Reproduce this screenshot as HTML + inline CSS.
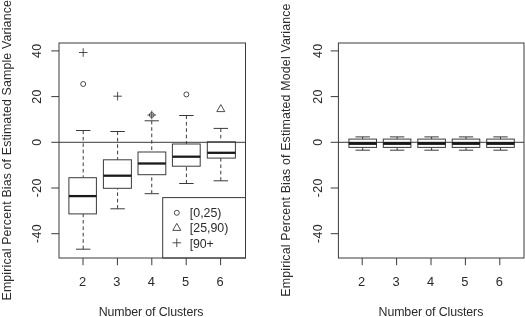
<!DOCTYPE html>
<html><head><meta charset="utf-8"><title>Boxplots</title>
<style>
html,body{margin:0;padding:0;background:#fff;}
body{width:525px;height:317px;overflow:hidden;}
svg{display:block;}
text{font-family:"Liberation Sans",Arial,Helvetica,sans-serif;font-size:12.4px;fill:#2b2b2b;}
.l{stroke:#3a3a3a;stroke-width:1;fill:none;}
.d{stroke:#3a3a3a;stroke-width:1;fill:none;stroke-dasharray:3.6 2.8;}
.m{stroke:#1a1a1a;stroke-width:2.3;fill:none;}
.b{stroke:#3a3a3a;stroke-width:1;fill:#fff;}
.s{stroke:#3a3a3a;stroke-width:0.9;fill:none;}
</style></head><body>
<svg width="525" height="317" viewBox="0 0 525 317">
<rect x="0" y="0" width="525" height="317" fill="#fff"/>

<g>
<line class="d" x1="83.2" y1="130.5" x2="83.2" y2="177.7"/>
<line class="d" x1="83.2" y1="249.2" x2="83.2" y2="213.9"/>
<line class="l" x1="76.0" y1="130.5" x2="90.4" y2="130.5"/>
<line class="l" x1="76.0" y1="249.2" x2="90.4" y2="249.2"/>
<rect class="b" x="68.9" y="177.7" width="27.5" height="36.2"/>
<line class="m" x1="68.9" y1="196.1" x2="96.4" y2="196.1"/>
<line class="d" x1="117.6" y1="131.5" x2="117.6" y2="159.8"/>
<line class="d" x1="117.6" y1="208.8" x2="117.6" y2="188.3"/>
<line class="l" x1="110.4" y1="131.5" x2="124.8" y2="131.5"/>
<line class="l" x1="110.4" y1="208.8" x2="124.8" y2="208.8"/>
<rect class="b" x="103.4" y="159.8" width="28.0" height="28.5"/>
<line class="m" x1="103.4" y1="175.7" x2="131.4" y2="175.7"/>
<line class="d" x1="151.75" y1="120.8" x2="151.75" y2="152"/>
<line class="d" x1="151.75" y1="193.7" x2="151.75" y2="174.7"/>
<line class="l" x1="144.6" y1="120.8" x2="158.9" y2="120.8"/>
<line class="l" x1="144.6" y1="193.7" x2="158.9" y2="193.7"/>
<rect class="b" x="138.0" y="152" width="27.8" height="22.7"/>
<line class="m" x1="138.0" y1="163.5" x2="165.8" y2="163.5"/>
<line class="d" x1="186.4" y1="115.5" x2="186.4" y2="144"/>
<line class="d" x1="186.4" y1="183.5" x2="186.4" y2="166.2"/>
<line class="l" x1="179.2" y1="115.5" x2="193.6" y2="115.5"/>
<line class="l" x1="179.2" y1="183.5" x2="193.6" y2="183.5"/>
<rect class="b" x="172.4" y="144" width="27.8" height="22.2"/>
<line class="m" x1="172.4" y1="156.7" x2="200.2" y2="156.7"/>
<line class="d" x1="220.8" y1="128.4" x2="220.8" y2="141.8"/>
<line class="d" x1="220.8" y1="180.8" x2="220.8" y2="158.1"/>
<line class="l" x1="213.6" y1="128.4" x2="228.0" y2="128.4"/>
<line class="l" x1="213.6" y1="180.8" x2="228.0" y2="180.8"/>
<rect class="b" x="207.3" y="141.8" width="28.1" height="16.3"/>
<line class="m" x1="207.3" y1="152.8" x2="235.4" y2="152.8"/>
<path class="s" d="M78.9 52.5H87.5M83.2 48.2V56.8"/>
<circle class="s" cx="83.2" cy="84" r="2.5"/>
<path class="s" d="M113.3 96.2H121.9M117.6 91.9V100.5"/>
<path class="s" d="M147.4 115.0H156.1M151.75 110.7V119.3"/>
<circle class="s" cx="151.75" cy="115.0" r="2.4"/>
<circle class="s" cx="186.4" cy="94.4" r="2.5"/>
<path class="s" d="M220.8 104.6L224.8 111.6H216.8Z"/>
<line class="l" x1="59" y1="142.3" x2="245.5" y2="142.3"/>
<rect class="b" x="162.7" y="197.6" width="82.8" height="60.4"/>
<circle class="s" cx="176.8" cy="212.8" r="2.5"/>
<path class="s" d="M176.8 223.4L180.8 230.4H172.8Z"/>
<path class="s" d="M172.5 242.8H181.1M176.8 238.5V247.1"/>
<text transform="translate(189.8,217.1) scale(1,1.06)" textLength="31.7" lengthAdjust="spacing">[0,25)</text>
<text transform="translate(189.8,232.4) scale(1,1.06)" textLength="38.6" lengthAdjust="spacing">[25,90)</text>
<text transform="translate(189.8,247.8) scale(1,1.06)" textLength="23.9" lengthAdjust="spacing">[90+</text>
<rect class="l" x="59" y="43" width="186.5" height="215"/>
<line class="l" x1="51.3" y1="50.9" x2="59" y2="50.9"/>
<text transform="translate(41.3,50.9) rotate(-90)" text-anchor="middle" textLength="14.2" lengthAdjust="spacing">40</text>
<line class="l" x1="51.3" y1="96.6" x2="59" y2="96.6"/>
<text transform="translate(41.3,96.6) rotate(-90)" text-anchor="middle" textLength="14.2" lengthAdjust="spacing">20</text>
<line class="l" x1="51.3" y1="142.3" x2="59" y2="142.3"/>
<text transform="translate(41.3,142.3) rotate(-90)" text-anchor="middle" textLength="7.1" lengthAdjust="spacing">0</text>
<line class="l" x1="51.3" y1="188.0" x2="59" y2="188.0"/>
<text transform="translate(41.3,188.0) rotate(-90)" text-anchor="middle" textLength="18.6" lengthAdjust="spacing">-20</text>
<line class="l" x1="51.3" y1="233.7" x2="59" y2="233.7"/>
<text transform="translate(41.3,233.7) rotate(-90)" text-anchor="middle" textLength="18.6" lengthAdjust="spacing">-40</text>
<line class="l" x1="83.0" y1="258" x2="83.0" y2="265.2"/>
<text transform="translate(82.5,285.7) scale(1.04,1.07)" text-anchor="middle">2</text>
<line class="l" x1="117.4" y1="258" x2="117.4" y2="265.2"/>
<text transform="translate(116.9,285.7) scale(1.04,1.07)" text-anchor="middle">3</text>
<line class="l" x1="151.8" y1="258" x2="151.8" y2="265.2"/>
<text transform="translate(151.3,285.7) scale(1.04,1.07)" text-anchor="middle">4</text>
<line class="l" x1="186.2" y1="258" x2="186.2" y2="265.2"/>
<text transform="translate(185.7,285.7) scale(1.04,1.07)" text-anchor="middle">5</text>
<line class="l" x1="220.6" y1="258" x2="220.6" y2="265.2"/>
<text transform="translate(220.1,285.7) scale(1.04,1.07)" text-anchor="middle">6</text>
<text transform="translate(151.05,316.3) scale(1,1.07)" text-anchor="middle" textLength="104.8" lengthAdjust="spacing">Number of Clusters</text>
<text transform="translate(10.9,150.3) rotate(-90)" text-anchor="middle" textLength="300.4" lengthAdjust="spacing">Empirical Percent Bias of Estimated Sample Variance</text>
</g>
<g>
<line class="d" x1="362.7" y1="136.9" x2="362.7" y2="139.1"/>
<line class="d" x1="362.7" y1="150.2" x2="362.7" y2="147.4"/>
<line class="l" x1="355.5" y1="136.9" x2="369.9" y2="136.9"/>
<line class="l" x1="355.5" y1="150.2" x2="369.9" y2="150.2"/>
<rect class="b" x="348.9" y="139.1" width="27.6" height="8.3"/>
<line class="m" x1="348.9" y1="143.5" x2="376.5" y2="143.5"/>
<line class="d" x1="397.15" y1="136.9" x2="397.15" y2="139.1"/>
<line class="d" x1="397.15" y1="150.2" x2="397.15" y2="147.4"/>
<line class="l" x1="389.9" y1="136.9" x2="404.3" y2="136.9"/>
<line class="l" x1="389.9" y1="150.2" x2="404.3" y2="150.2"/>
<rect class="b" x="383.3" y="139.1" width="27.6" height="8.3"/>
<line class="m" x1="383.3" y1="143.5" x2="410.9" y2="143.5"/>
<line class="d" x1="431.6" y1="136.9" x2="431.6" y2="139.1"/>
<line class="d" x1="431.6" y1="150.2" x2="431.6" y2="147.4"/>
<line class="l" x1="424.4" y1="136.9" x2="438.8" y2="136.9"/>
<line class="l" x1="424.4" y1="150.2" x2="438.8" y2="150.2"/>
<rect class="b" x="417.8" y="139.1" width="27.6" height="8.3"/>
<line class="m" x1="417.8" y1="143.5" x2="445.4" y2="143.5"/>
<line class="d" x1="466.05" y1="136.9" x2="466.05" y2="139.1"/>
<line class="d" x1="466.05" y1="150.2" x2="466.05" y2="147.4"/>
<line class="l" x1="458.9" y1="136.9" x2="473.2" y2="136.9"/>
<line class="l" x1="458.9" y1="150.2" x2="473.2" y2="150.2"/>
<rect class="b" x="452.2" y="139.1" width="27.6" height="8.3"/>
<line class="m" x1="452.2" y1="143.5" x2="479.9" y2="143.5"/>
<line class="d" x1="500.5" y1="136.9" x2="500.5" y2="139.1"/>
<line class="d" x1="500.5" y1="150.2" x2="500.5" y2="147.4"/>
<line class="l" x1="493.3" y1="136.9" x2="507.7" y2="136.9"/>
<line class="l" x1="493.3" y1="150.2" x2="507.7" y2="150.2"/>
<rect class="b" x="486.7" y="139.1" width="27.6" height="8.3"/>
<line class="m" x1="486.7" y1="143.5" x2="514.3" y2="143.5"/>
<line class="l" x1="338.4" y1="142.3" x2="524" y2="142.3"/>
<line class="m" style="stroke-width:2.7" x1="348.9" y1="143.4" x2="376.5" y2="143.4"/>
<line class="m" style="stroke-width:2.7" x1="383.3" y1="143.4" x2="410.9" y2="143.4"/>
<line class="m" style="stroke-width:2.7" x1="417.8" y1="143.4" x2="445.4" y2="143.4"/>
<line class="m" style="stroke-width:2.7" x1="452.2" y1="143.4" x2="479.9" y2="143.4"/>
<line class="m" style="stroke-width:2.7" x1="486.7" y1="143.4" x2="514.3" y2="143.4"/>
<rect class="l" x="338.4" y="43" width="185.6" height="215"/>
<line class="l" x1="330.7" y1="50.9" x2="338.4" y2="50.9"/>
<text transform="translate(321.5,50.9) rotate(-90)" text-anchor="middle" textLength="14.2" lengthAdjust="spacing">40</text>
<line class="l" x1="330.7" y1="96.6" x2="338.4" y2="96.6"/>
<text transform="translate(321.5,96.6) rotate(-90)" text-anchor="middle" textLength="14.2" lengthAdjust="spacing">20</text>
<line class="l" x1="330.7" y1="142.3" x2="338.4" y2="142.3"/>
<text transform="translate(321.5,142.3) rotate(-90)" text-anchor="middle" textLength="7.1" lengthAdjust="spacing">0</text>
<line class="l" x1="330.7" y1="188.0" x2="338.4" y2="188.0"/>
<text transform="translate(321.5,188.0) rotate(-90)" text-anchor="middle" textLength="18.6" lengthAdjust="spacing">-20</text>
<line class="l" x1="330.7" y1="233.7" x2="338.4" y2="233.7"/>
<text transform="translate(321.5,233.7) rotate(-90)" text-anchor="middle" textLength="18.6" lengthAdjust="spacing">-40</text>
<line class="l" x1="362.2" y1="258" x2="362.2" y2="265.2"/>
<text transform="translate(361.7,285.7) scale(1.04,1.07)" text-anchor="middle">2</text>
<line class="l" x1="396.6" y1="258" x2="396.6" y2="265.2"/>
<text transform="translate(396.1,285.7) scale(1.04,1.07)" text-anchor="middle">3</text>
<line class="l" x1="431.0" y1="258" x2="431.0" y2="265.2"/>
<text transform="translate(430.5,285.7) scale(1.04,1.07)" text-anchor="middle">4</text>
<line class="l" x1="465.4" y1="258" x2="465.4" y2="265.2"/>
<text transform="translate(464.9,285.7) scale(1.04,1.07)" text-anchor="middle">5</text>
<line class="l" x1="499.8" y1="258" x2="499.8" y2="265.2"/>
<text transform="translate(499.3,285.7) scale(1.04,1.07)" text-anchor="middle">6</text>
<text transform="translate(430.95,316.3) scale(1,1.07)" text-anchor="middle" textLength="104.8" lengthAdjust="spacing">Number of Clusters</text>
<text transform="translate(290.3,150.1) rotate(-90)" text-anchor="middle" textLength="293.2" lengthAdjust="spacing">Empirical Percent Bias of Estimated Model Variance</text>
</g>
</svg></body></html>
